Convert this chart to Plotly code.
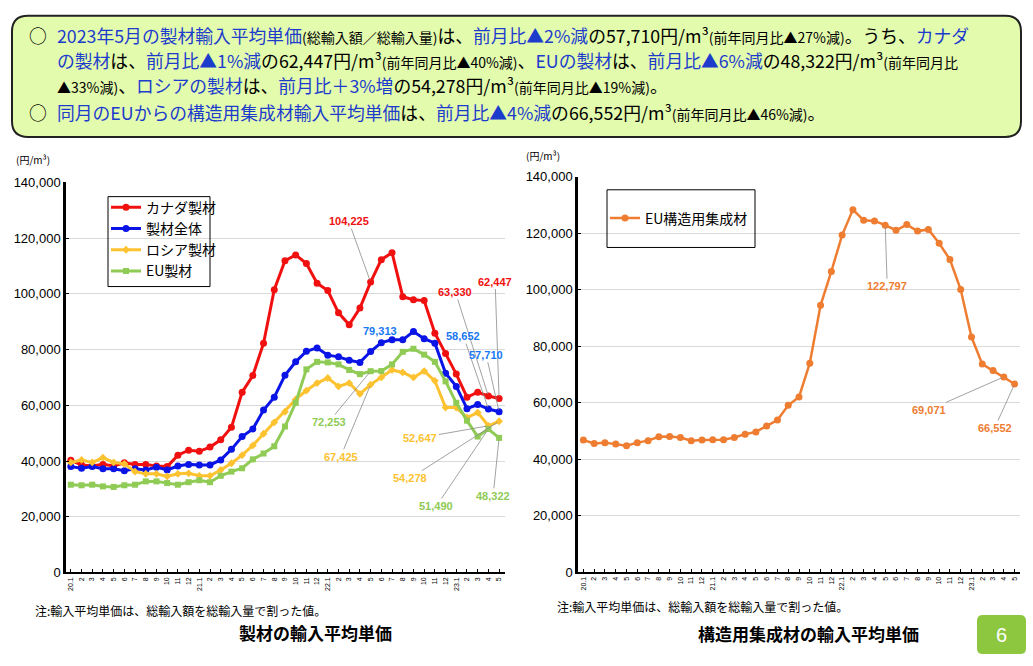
import plotly.graph_objects as go

# ---------------- data ----------------
months = []
for yy in (20, 21, 22, 23):
    for mm in range(1, 13):
        if yy == 23 and mm > 5:
            break
        months.append(f"{yy}.1" if mm == 1 else str(mm))

canada = [40300, 38600, 38200, 38800, 38200, 39400, 38800, 38800, 38200, 38000,
          42100, 43900, 43500, 45000, 47600, 52100, 64700, 70700, 82300, 101500,
          111900, 114000, 110900, 103800, 101200, 93200, 88900, 94900, 104225, 112300,
          114800, 99000, 97900, 97600, 85900, 78600, 71200, 62900, 64700, 63330, 62447]
total = [38000, 37400, 38000, 37200, 37200, 36500, 37200, 36800, 37800, 36800,
         38200, 38800, 38600, 38600, 40400, 44200, 48800, 51500, 58300, 62900,
         70800, 75600, 79400, 80600, 78000, 77400, 76200, 75400, 79313, 82500,
         83500, 83500, 86500, 83900, 82300, 71500, 66800, 58800, 60300, 58652, 57710]
russia = [39500, 40400, 39500, 41200, 39500, 39000, 36200, 35400, 35400, 34500,
          35400, 35600, 34700, 34700, 36800, 39200, 42100, 45600, 49800, 53900,
          57700, 62100, 65300, 68000, 69800, 66800, 68000, 64100, 67425, 70000,
          72700, 71800, 70000, 72300, 68800, 59200, 59200, 55600, 57400, 52647, 54278]
eu = [31500, 31300, 31500, 30900, 30700, 31300, 31500, 32700, 32700, 32100,
      31500, 32400, 33100, 32400, 34700, 36200, 37400, 40600, 42700, 45300,
      52400, 60900, 72900, 75600, 75400, 74700, 72700, 71200, 72253, 72300,
      74700, 79200, 80300, 78200, 75600, 68600, 60900, 54500, 48800, 51490, 48322]
eu_glulam = [46700, 45500, 45800, 45300, 44700, 45800, 46500, 47900, 48000, 47600,
             46500, 46700, 46800, 46800, 47600, 48800, 49600, 51700, 53800, 59000,
             62000, 73900, 94400, 106400, 119300, 128300, 124500, 124300, 122797, 121000,
             123000, 120700, 121300, 116400, 110600, 100000, 83200, 73600, 71300, 69071, 66552]

idx = list(range(len(months)))

W, H = 1033, 666
def px(x):
    return x / W
def py(y):
    return 1 - y / H

FONT = "Liberation Sans, Arial, Noto Sans CJK JP, sans-serif"
JP = "Noto Sans CJK JP, sans-serif"
RED, BLUE, YEL, GRN, ORG = "#f01010", "#0a14e6", "#fcc230", "#8fcb55", "#ee7d31"
LBLUE = "#1877f2"

fig = go.Figure()
left = [("カナダ製材", canada, RED, "circle", 7),
        ("製材全体", total, BLUE, "circle", 7),
        ("ロシア製材", russia, YEL, "diamond", 6),
        ("EU製材", eu, GRN, "square", 6)]
for name, vals, col, sym, ms in left:
    fig.add_trace(go.Scatter(x=idx, y=vals, name=name, mode="lines+markers",
                             line=dict(color=col, width=3),
                             marker=dict(color=col, symbol=sym, size=ms),
                             xaxis="x", yaxis="y", legend="legend"))
fig.add_trace(go.Scatter(x=idx, y=eu_glulam, name="EU構造用集成材", mode="lines+markers",
                         line=dict(color=ORG, width=2.5),
                         marker=dict(color=ORG, size=7),
                         xaxis="x2", yaxis="y2", legend="legend2"))

xcommon = dict(tickmode="array", tickvals=idx, ticktext=months, tickangle=-90,
               tickfont=dict(size=7, family=FONT, color="#000"), showgrid=False,
               showline=True, linecolor="#000", linewidth=2, ticks="inside",
               ticklen=3, tickcolor="#000", zeroline=False, fixedrange=True)
ycommon = dict(range=[0, 140000], dtick=20000, tickformat=",", showgrid=True,
               gridcolor="#d9d9d9", gridwidth=1, showline=True, linecolor="#000",
               linewidth=2.5, ticks="inside", ticklen=3, tickcolor="#000",
               tickfont=dict(size=13, family=FONT, color="#000"), zeroline=False,
               fixedrange=True)

fig.update_layout(
    width=W, height=H, margin=dict(l=0, r=0, t=0, b=0),
    paper_bgcolor="white", plot_bgcolor="white",
    xaxis=dict(domain=[px(66), px(505)], range=[-0.45, 40.55], anchor="y", **xcommon),
    yaxis=dict(domain=[py(578.5), py(179.5)], anchor="x", **ycommon),
    xaxis2=dict(domain=[px(578), px(1020)], range=[-0.5, 40.5], anchor="y2", **xcommon),
    yaxis2=dict(domain=[py(578), py(173.5)], anchor="x2", **ycommon),
    legend=dict(x=px(106), y=py(189), xanchor="left", yanchor="top",
                bgcolor="rgba(0,0,0,0)", borderwidth=0,
                font=dict(size=14, family=JP, color="#000"), itemwidth=30,
                tracegroupgap=0),
    legend2=dict(x=px(605), y=py(200), xanchor="left", yanchor="top",
                 bgcolor="rgba(0,0,0,0)", borderwidth=0,
                 font=dict(size=14, family=JP, color="#000"), itemwidth=30),
    showlegend=True,
)

shapes = []
r = 16
x0, x1, y0, y1 = 12, 1021, 9, 133
path = (f"M {px(x0+r)} {py(y0)} L {px(x1-r)} {py(y0)} Q {px(x1)} {py(y0)} {px(x1)} {py(y0+r)} "
        f"L {px(x1)} {py(y1-r)} Q {px(x1)} {py(y1)} {px(x1-r)} {py(y1)} "
        f"L {px(x0+r)} {py(y1)} Q {px(x0)} {py(y1)} {px(x0)} {py(y1-r)} "
        f"L {px(x0)} {py(y0+r)} Q {px(x0)} {py(y0)} {px(x0+r)} {py(y0)} Z")
shapes.append(dict(type="path", xref="paper", yref="paper", path=path,
                   fillcolor="#e3fbad", line=dict(color="#222", width=2), layer="below"))
shapes.append(dict(type="rect", xref="paper", yref="paper", x0=px(108), x1=px(210),
                   y0=py(286), y1=py(194), line=dict(color="#000", width=1)))
shapes.append(dict(type="rect", xref="paper", yref="paper", x0=px(607), x1=px(755),
                   y0=py(246), y1=py(187), line=dict(color="#000", width=1)))
rr = 6
a0, a1, b0, b1 = 977, 1026, 622, 662
pp = (f"M {px(a0+rr)} {py(b0)} L {px(a1-rr)} {py(b0)} Q {px(a1)} {py(b0)} {px(a1)} {py(b0+rr)} "
      f"L {px(a1)} {py(b1-rr)} Q {px(a1)} {py(b1)} {px(a1-rr)} {py(b1)} "
      f"L {px(a0+rr)} {py(b1)} Q {px(a0)} {py(b1)} {px(a0)} {py(b1-rr)} "
      f"L {px(a0)} {py(b0+rr)} Q {px(a0)} {py(b0)} {px(a0+rr)} {py(b0)} Z")
shapes.append(dict(type="path", xref="paper", yref="paper", path=pp,
                   fillcolor="#8dc63f", line=dict(width=0)))
fig.update_layout(shapes=shapes)

ann = []
HB = "#1d3ccc"
def b(t):
    return f'<span style="color:{HB}">{t}</span>'
def s(t):
    return f'<span style="font-size:14px">{t}</span>'

MAIN = 17.8
lines = [
    (27, 29, "○"),
    (55, 29, b("2023年5月の製材輸入平均単価") + s("(総輸入額／総輸入量)") + "は、" + b("前月比▲2%減")
     + "の57,710円/m³" + s("(前年同月比▲27%減)") + "。うち、" + b("カナダ")),
    (55, 54.5, b("の製材") + "は、" + b("前月比▲1%減") + "の62,447円/m³" + s("(前年同月比▲40%減)")
     + "、" + b("EUの製材") + "は、" + b("前月比▲6%減") + "の48,322円/m³" + s("(前年同月比")),
    (55, 80, s("▲33%減)") + "、" + b("ロシアの製材") + "は、" + b("前月比＋3%増") + "の54,278円/m³"
     + s("(前年同月比▲19%減)") + "。"),
    (27, 107, "○"),
    (55, 107, b("同月のEUからの構造用集成材輸入平均単価") + "は、" + b("前月比▲4%減") + "の66,552円/m³"
     + s("(前年同月比▲46%減)") + "。"),
]
for x, y, t in lines:
    ann.append(dict(xref="paper", yref="paper", x=px(x), y=py(y), xanchor="left",
                    yanchor="middle", text=t, showarrow=False,
                    font=dict(size=MAIN, family=JP, color="#000")))

for x, y in ((33, 156), (543, 152)):
    ann.append(dict(xref="paper", yref="paper", x=px(x), y=py(y), xanchor="center",
                    yanchor="middle", text="(円/m³)",
                    showarrow=False, font=dict(size=10, family=JP, color="#000")))
for x, y in ((33, 617), (555, 613)):
    ann.append(dict(xref="paper", yref="paper", x=px(x), y=py(y), xanchor="left",
                    yanchor="middle",
                    text="注:輸入平均単価は、総輸入額を総輸入量で割った値。", showarrow=False,
                    font=dict(size=12, family=JP, color="#000")))
for x, y, t in ((315, 640, "製材の輸入平均単価"), (808, 641, "構造用集成材の輸入平均単価")):
    ann.append(dict(xref="paper", yref="paper", x=px(x), y=py(y), xanchor="center",
                    yanchor="middle", text=f"<b>{t}</b>",
                    showarrow=False, font=dict(size=17, family=JP, color="#000")))
ann.append(dict(xref="paper", yref="paper", x=px(1001.5), y=py(642), xanchor="center",
                yanchor="middle", text="6", showarrow=False,
                font=dict(size=20, family=FONT, color="white")))

LBL = "Liberation Sans Narrow, Arial Narrow, Liberation Sans, sans-serif"
def dl(xa, ya, i, vals, col, axx, ayy, arrow=True):
    d = dict(xref=xa, yref=ya, x=i, y=vals[i], text=f"<b>{vals[i]:,}</b>",
             font=dict(size=11, family=LBL, color=col))
    if arrow:
        d.update(showarrow=True, arrowhead=0, arrowwidth=0.8, arrowcolor="#8a8a8a",
                 ax=axx, ay=ayy, standoff=2)
    else:
        d.update(showarrow=False, xshift=axx, yshift=-ayy)
    return d

ann += [
    dl("x", "y", 28, canada, RED, -22, -61),
    dl("x", "y", 39, canada, RED, -33, -104),
    dl("x", "y", 40, canada, RED, -4, -117),
    dl("x", "y", 28, total, LBLUE, 9, -21, arrow=False),
    dl("x", "y", 39, total, LBLUE, -25, -73),
    dl("x", "y", 40, total, LBLUE, -13, -57),
    dl("x", "y", 28, eu, GRN, -42, 51),
    dl("x", "y", 28, russia, YEL, -30, 72),
    dl("x", "y", 39, russia, YEL, -68, 12),
    dl("x", "y", 40, russia, YEL, -89, 57),
    dl("x", "y", 39, eu, GRN, -52, 77),
    dl("x", "y", 40, eu, GRN, -6, 58),
    dl("x2", "y2", 28, eu_glulam, ORG, 2, 61),
    dl("x2", "y2", 39, eu_glulam, ORG, -75, 33),
    dl("x2", "y2", 40, eu_glulam, ORG, -20, 44),
]
fig.update_layout(annotations=ann)

fig.write_html("out.html", config={"displayModeBar": False},
               post_script="document.body.style.margin='0';document.body.style.overflow='hidden';")
